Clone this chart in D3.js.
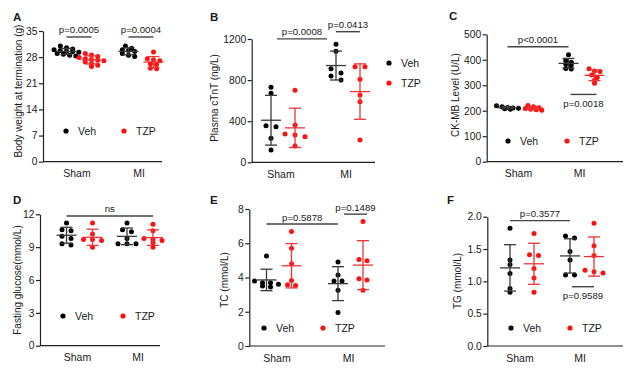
<!DOCTYPE html>
<html>
<head>
<meta charset="utf-8">
<script src="https://cdn.jsdelivr.net/npm/d3@7"></script>
<style>
	body { margin: 0; background: #fff; }
	text { font-family: Arial, "Liberation Sans", sans-serif; fill: #1a1a1a; }
</style>
</head>
<body>
<svg id="fig" width="627" height="370"></svg>
<script>
// categories
var groups = ["Sham", "MI"];
var seriesNames = ["Veh", "TZP"];

// values per group: [Sham, MI]
var bodyWeightVeh = [[31.0, 30.5, 30.2, 30.0, 29.8, 29.6, 29.5, 29.3, 29.0, 28.8, 28.5, 28.3], [31.0, 30.4, 30.0, 29.8, 29.5, 29.0, 28.5, 28.2]];
var bodyWeightTZP = [[29.0, 28.6, 28.2, 27.9, 27.6, 27.4, 27.2, 27.0, 26.7, 26.3, 25.8, 25.5], [29.4, 27.6, 27.3, 27.0, 26.2, 26.0, 25.0, 24.9]];
var ctntVeh = [[730, 671, 356, 346, 233, 120], [1150, 1080, 910, 870, 840, 800]];
var ctntTZP = [[702, 362, 275, 265, 249, 158], [930, 930, 808, 655, 590, 217]];
var ckmbVeh = [[220, 216, 213, 211, 210, 208, 206], [420, 398, 390, 383, 380, 366, 364]];
var ckmbTZP = [[221, 216, 212, 209, 206, 204, 202], [365, 356, 354, 340, 330, 320, 308]];
var glucoseVeh = [[11.2, 10.6, 10.5, 10.0, 9.8, 9.3, 9.2], [11.2, 10.6, 10.4, 9.8, 9.3, 9.3, 9.3]];
var glucoseTZP = [[11.2, 10.2, 9.7, 9.7, 9.6, 9.0], [11.1, 10.5, 9.8, 9.7, 9.6, 9.4, 9.0]];
var tcVeh = [[5.25, 3.8, 3.7, 3.7, 3.6, 3.5, 3.45], [4.9, 4.15, 3.8, 3.8, 3.25, 1.95]];
var tcTZP = [[6.68, 5.71, 4.8, 3.82, 3.57, 3.53], [7.27, 5.05, 4.98, 3.93, 3.86, 3.25]];
var tgVeh = [[1.82, 1.33, 1.26, 1.12, 0.89, 0.83], [1.70, 1.67, 1.46, 1.33, 1.10, 1.10]];
var tgTZP = [[1.74, 1.41, 1.40, 1.20, 1.05, 0.83], [1.90, 1.55, 1.40, 1.17, 1.15, 1.13]];

// tick labels
var ticksA = [0, 7, 14, 21, 28, 35];
var ticksB = [0, 400, 800, 1200];
var ticksC = [0, 100, 200, 300, 400, 500];
var ticksD = [0, 3, 6, 9, 12];
var ticksE = [0, 2, 4, 6, 8];
var ticksF = [0, 0.5, 1.0, 1.5, 2.0];

// significance labels
var pA = ["p=0.0005", "p=0.0004"];
var pB = ["p=0.0008", "p=0.0413"];
var pC = ["p<0.0001", "p=0.0018"];
var pD = ["ns"];
var pE = ["p=0.5878", "p=0.1489"];
var pF = ["p=0.3577", "p=0.9589"];

var dotColor = { Veh: "#000000", TZP: "#ff1010" };
var barColor = { Veh: "#3a3a3a", TZP: "#ec3434" };

var panels = [
	{ letter: "A", lx: 13, ly: 21, ylabel: "Body weight at termination (g)", yl: [18, 91],
		veh: bodyWeightVeh, tzp: bodyWeightTZP, ticks: ticksA, max: 35, ax: 43, xEnd: 162, y0: 161.7, y1: 31,
		gx: [79, 141], off: 12.5, spacing: 6.2, rowH: 3.6,
		legend: [[66, 131], [124, 131]],
		brackets: [
			{ text: pA[0], a: ["Sham", "Veh"], b: ["Sham", "TZP"], v: 33.4 },
			{ text: pA[1], a: ["MI", "Veh"], b: ["MI", "TZP"], v: 33.4 }
		] },
	{ letter: "B", lx: 210, ly: 21, ylabel: "Plasma cTnT (ng/L)", yl: [214, 98],
		veh: ctntVeh, tzp: ctntTZP, ticks: ticksB, max: 1200, ax: 251.7, xEnd: 375, y0: 162.3, y1: 39,
		gx: [283, 348], off: 12, spacing: 10, rowH: 4.5,
		legend: [[389, 63], [389, 83]],
		brackets: [
			{ text: pB[0], a: ["Sham", "Veh"], b: ["MI", "Veh"], v: 1201, dx: [6, -9] },
			{ text: pB[1], a: ["MI", "Veh"], b: ["MI", "TZP"], v: 1271 }
		] },
	{ letter: "C", lx: 449, ly: 20, ylabel: "CK-MB Level (U/L)", yl: [455, 95],
		veh: ckmbVeh, tzp: ckmbTZP, ticks: ticksC, max: 500, ax: 486.7, xEnd: 623, y0: 161.7, y1: 34.3,
		gx: [520.5, 581.5], off: 13, spacing: 5.5, rowH: 3,
		legend: [[508, 141], [567, 141]],
		brackets: [
			{ text: pC[0], a: ["Sham", "Veh"], b: ["MI", "Veh"], v: 451 },
			{ text: pC[1], a: ["MI", "Veh"], b: ["MI", "TZP"], v: 264, below: true, dx: [2, 2] }
		] },
	{ letter: "D", lx: 13, ly: 204, ylabel: "Fasting glucose(mmol/L)", yl: [17, 280],
		veh: glucoseVeh, tzp: glucoseTZP, ticks: ticksD, max: 12, ax: 40, xEnd: 160, y0: 345.7, y1: 214.3,
		gx: [79.5, 140], off: 13, spacing: 9, rowH: 3.5,
		legend: [[63, 316], [123, 316]],
		brackets: [
			{ text: pD[0], a: ["Sham", "Veh"], b: ["MI", "TZP"], v: 11.85 }
		] },
	{ letter: "E", lx: 210, ly: 204, ylabel: "TC (mmol/L)", yl: [224, 280],
		veh: tcVeh, tzp: tcTZP, ticks: ticksE, max: 8, ax: 249.3, xEnd: 385, y0: 346, y1: 209,
		gx: [279, 350.5], off: 12.5, spacing: 8, rowH: 3.5,
		legend: [[264, 328], [323, 328]],
		brackets: [
			{ text: pE[0], a: ["Sham", "Veh"], b: ["MI", "Veh"], v: 7.12 },
			{ text: pE[1], a: ["MI", "Veh"], b: ["MI", "TZP"], v: 7.70, dx: [6, 4] }
		] },
	{ letter: "F", lx: 447, ly: 204, ylabel: "TG (mmol/L)", yl: [457, 281],
		veh: tgVeh, tzp: tgTZP, ticks: ticksF, max: 2.0, fmt: ".1f", ax: 487.3, xEnd: 623, y0: 346, y1: 216.7,
		gx: [522, 582], off: 12, spacing: 9, rowH: 3.5,
		legend: [[511, 328], [570, 328]],
		brackets: [
			{ text: pF[0], a: ["Sham", "Veh"], b: ["MI", "Veh"], v: 1.94 },
			{ text: pF[1], a: ["MI", "Veh"], b: ["MI", "TZP"], v: 0.917, below: true, dx: [2, 0] }
		] }
];

var svg = d3.select("#fig");

// lay dots of one column out in rows, centred on the column
function swarm(values, y, cx, spacing, rowH) {
	var pts = values.map(function(v) { return { v: v, y: y(v) }; })
		.sort(function(a, b) { return a.y - b.y; });
	var rows = [];
	pts.forEach(function(p) {
		var last = rows[rows.length - 1];
		if (last && p.y - last[0].y < rowH) {
			last.push(p);
		} else {
			rows.push([p]);
		}
	});
	rows.forEach(function(row) {
		row.forEach(function(p, i) {
			p.x = cx + (i - (row.length - 1) / 2) * spacing;
		});
	});
	return pts;
}

panels.forEach(function(p) {
	var g = svg.append("g");
	var y = d3.scaleLinear().domain([0, p.max]).range([p.y0, p.y1]);
	var gx = d3.scalePoint().domain(groups).range(p.gx);
	var sx = d3.scalePoint().domain(seriesNames).range([-p.off, p.off]);
	var colX = function(grp, ser) { return gx(grp) + sx(ser); };

	// panel letter
	g.append("text")
		.attr("x", p.lx)
		.attr("y", p.ly)
		.style("font-size", "11.5px")
		.style("font-weight", "bold")
		.text(p.letter);

	// y axis
	var yAxis = g.append("g")
		.attr("transform", "translate(" + p.ax + ",0)")
		.call(d3.axisLeft(y)
			.tickValues(p.ticks)
			.tickFormat(d3.format(p.fmt || "d"))
			.tickSize(4)
			.tickSizeOuter(0)
			.tickPadding(1.5));
	yAxis.selectAll("text").style("font-size", "10.3px").attr("fill", "#1a1a1a");
	yAxis.selectAll("line").attr("stroke", "#222").attr("stroke-width", 1.2);
	yAxis.select(".domain").attr("stroke", "#222").attr("stroke-width", 1.2);

	// x axis
	g.append("line")
		.attr("x1", p.ax)
		.attr("x2", p.xEnd)
		.attr("y1", p.y0)
		.attr("y2", p.y0)
		.attr("stroke", "#222")
		.attr("stroke-width", 1.2);
	g.selectAll(".xlab")
		.data(groups)
		.enter().append("text")
		.attr("x", function(d) { return gx(d) - 2; })
		.attr("y", p.y0 + 15.5)
		.attr("text-anchor", "middle")
		.style("font-size", "10.5px")
		.text(function(d) { return d; });

	// y label
	g.append("text")
		.attr("transform", "translate(" + p.yl[0] + "," + p.yl[1] + ") rotate(-90)")
		.attr("text-anchor", "middle")
		.attr("dy", "0.35em")
		.style("font-size", "10px")
		.text(p.ylabel);

	// dots and mean +/- SD
	seriesNames.forEach(function(ser) {
		var data = ser === "Veh" ? p.veh : p.tzp;
		groups.forEach(function(grp, gi) {
			var vals = data[gi];
			var cx = colX(grp, ser);
			var pts = swarm(vals, y, cx, p.spacing, p.rowH);
			g.append("g").selectAll("circle")
				.data(pts)
				.enter().append("circle")
				.attr("cx", function(d) { return d.x; })
				.attr("cy", function(d) { return d.y; })
				.attr("r", 2.5)
				.attr("fill", dotColor[ser]);

			var m = d3.mean(vals);
			var sd = d3.deviation(vals);
			var bar = g.append("g")
				.attr("stroke", barColor[ser])
				.attr("stroke-width", 1.3);
			bar.append("line")
				.attr("x1", cx).attr("x2", cx)
				.attr("y1", y(m - sd)).attr("y2", y(m + sd));
			bar.append("line")
				.attr("x1", cx - 10).attr("x2", cx + 10)
				.attr("y1", y(m)).attr("y2", y(m));
			[m - sd, m + sd].forEach(function(v) {
				bar.append("line")
					.attr("x1", cx - 6).attr("x2", cx + 6)
					.attr("y1", y(v)).attr("y2", y(v));
			});
		});
	});

	// significance brackets
	p.brackets.forEach(function(b) {
		var dx = b.dx || [0, 0];
		var x1 = colX(b.a[0], b.a[1]) + dx[0];
		var x2 = colX(b.b[0], b.b[1]) + dx[1];
		var yy = y(b.v);
		g.append("line")
			.attr("x1", x1).attr("x2", x2)
			.attr("y1", yy).attr("y2", yy)
			.attr("stroke", "#444")
			.attr("stroke-width", 1.4);
		g.append("text")
			.attr("x", (x1 + x2) / 2)
			.attr("y", b.below ? yy + 12.5 : yy - 3.5)
			.attr("text-anchor", "middle")
			.style("font-size", "9.6px")
			.text(b.text);
	});

	// legend
	seriesNames.forEach(function(ser, i) {
		var pos = p.legend[i];
		g.append("circle")
			.attr("cx", pos[0])
			.attr("cy", pos[1])
			.attr("r", 2.6)
			.attr("fill", dotColor[ser]);
		g.append("text")
			.attr("x", pos[0] + 12)
			.attr("y", pos[1])
			.attr("dy", "0.35em")
			.style("font-size", "10.5px")
			.text(ser);
	});
});
</script>
</body>
</html>
